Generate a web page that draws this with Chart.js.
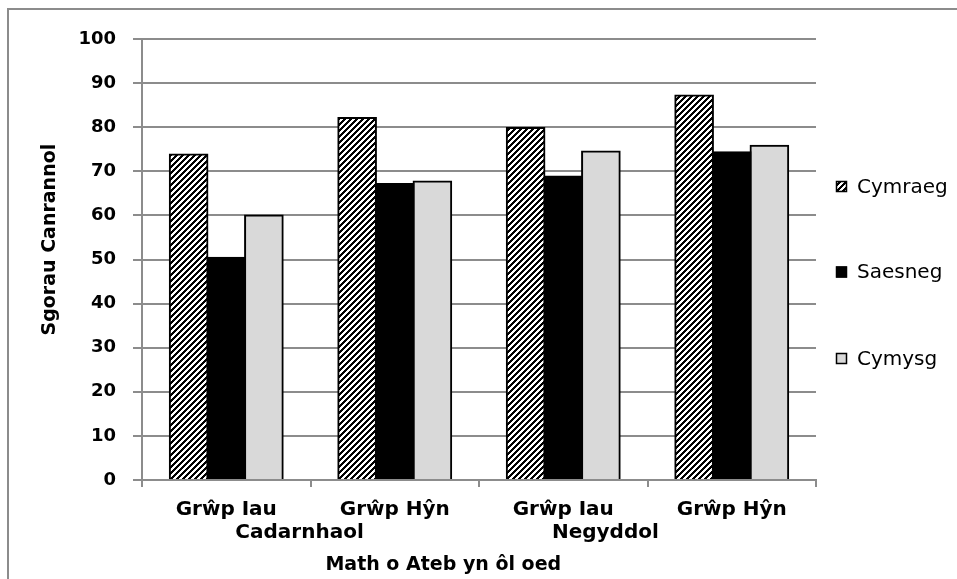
<!DOCTYPE html>
<html>
<head>
<meta charset="utf-8">
<script src="https://cdn.jsdelivr.net/npm/chart.js@4/dist/chart.umd.min.js"></script>
<style>
  html, body { margin: 0; padding: 0; background: #ffffff; }
  canvas { display: block; }
</style>
</head>
<body>
<canvas id="chart" width="957" height="579"></canvas>
<script>
// Category labels along the x axis, with the answer type shown on a second line
const categories = ['Grŵp Iau', 'Grŵp Hŷn', 'Grŵp Iau', 'Grŵp Hŷn'];
const groupLabels = ['Cadarnhaol', 'Negyddol'];

// Series (percentage scores)
const seriesNames = ['Cymraeg', 'Saesneg', 'Cymysg'];
const cymraeg = [73.8, 82.1, 79.8, 87.2];
const saesneg = [50.4, 67.1, 68.8, 74.3];
const cymysg  = [60.0, 67.7, 74.5, 75.8];

// Value axis
const yMin = 0;
const yMax = 100;
const yStep = 10;

const xTitle = 'Math o Ateb yn ôl oed';
const yTitle = 'Sgorau Canrannol';

// ---- styling ----
const FONT = "'DejaVu Sans', sans-serif";
const GRID = '#8c8c8c';

// Black/white diagonal stripes for the first series
function stripePattern() {
  const size = 6;
  const c = document.createElement('canvas');
  c.width = size; c.height = size;
  const g = c.getContext('2d');
  g.fillStyle = '#ffffff';
  g.fillRect(0, 0, size, size);
  g.fillStyle = '#000000';
  for (let y = 0; y < size; y++) {
    for (let x = 0; x < size; x++) {
      if ((x + y) % size < 3) g.fillRect(x, y, 1, 1);
    }
  }
  return g.createPattern(c, 'repeat');
}
const stripes = stripePattern();

const fills = [stripes, '#000000', '#d9d9d9'];
const seriesData = [cymraeg, saesneg, cymysg];

// Where the second-line group labels sit, in category units
const groupLabelAt = [0.435, 2.25];

// Frame, titles, group labels and legend drawn around the plot
const decor = {
  id: 'decor',
  beforeDraw(chart) {
    const ctx = chart.ctx;
    ctx.save();
    ctx.strokeStyle = GRID;
    ctx.lineWidth = 2;
    ctx.beginPath();
    ctx.moveTo(8, chart.height);
    ctx.lineTo(8, 9);
    ctx.lineTo(chart.width, 9);
    ctx.stroke();
    ctx.restore();
  },
  afterDraw(chart) {
    const ctx = chart.ctx;
    const area = chart.chartArea;
    const xs = chart.scales.x;
    ctx.save();
    ctx.fillStyle = '#000000';
    ctx.textBaseline = 'middle';
    ctx.textAlign = 'center';

    // second line of the category labels
    ctx.font = 'bold 20px ' + FONT;
    groupLabels.forEach((t, i) => {
      ctx.fillText(t, xs.getPixelForValue(groupLabelAt[i]), area.bottom + 53);
    });

    // axis titles
    ctx.font = 'bold 19px ' + FONT;
    ctx.fillText(xTitle, area.left + (area.right - area.left) * 0.447, area.bottom + 85);
    ctx.save();
    ctx.translate(50.5, area.top + (area.bottom - area.top) * 0.455);
    ctx.rotate(-Math.PI / 2);
    ctx.fillText(yTitle, 0, 0);
    ctx.restore();

    // legend
    ctx.font = '20px ' + FONT;
    ctx.textAlign = 'left';
    const lx = area.right + 20;
    const rows = [186.5, 272, 358.5];
    seriesNames.forEach((name, i) => {
      const cy = rows[i];
      ctx.fillStyle = fills[i];
      ctx.fillRect(lx, cy - 5.5, 11, 11);
      ctx.strokeStyle = '#000000';
      ctx.lineWidth = 1.5;
      ctx.strokeRect(lx + 0.5, cy - 5, 10, 10);
      ctx.fillStyle = '#000000';
      ctx.fillText(name, lx + 21, cy + 1);
    });
    ctx.restore();
  }
};

new Chart(document.getElementById('chart'), {
  type: 'bar',
  data: {
    labels: categories,
    datasets: seriesNames.map((name, i) => ({
      label: name,
      data: seriesData[i],
      backgroundColor: fills[i],
      borderColor: '#000000',
      borderWidth: 2,
      borderSkipped: 'bottom',
      inflateAmount: 1,
      categoryPercentage: 0.67,
      barPercentage: 1.0
    }))
  },
  options: {
    responsive: false,
    animation: false,
    devicePixelRatio: 1,
    layout: { padding: { left: 0, top: 39, right: 141, bottom: 0 } },
    plugins: {
      legend: { display: false },
      tooltip: { enabled: false }
    },
    scales: {
      x: {
        grid: {
          offset: true,
          drawOnChartArea: false,
          drawTicks: true,
          tickLength: 7,
          color: GRID,
          lineWidth: 2
        },
        border: { color: GRID, width: 2, z: 1 },
        ticks: {
          color: '#000000',
          font: { family: FONT, size: 20, weight: 'bold' },
          padding: 11,
          maxRotation: 0,
          autoSkip: false
        },
        afterFit(scale) { scale.height = 99; }
      },
      y: {
        min: yMin,
        max: yMax,
        grid: {
          color: GRID,
          lineWidth: 2,
          tickLength: 9
        },
        border: { color: GRID, width: 2 },
        ticks: {
          stepSize: yStep,
          color: '#000000',
          font: { family: FONT, size: 18, weight: 'bold' },
          padding: 17
        },
        afterFit(scale) { scale.width = 142; }
      }
    }
  },
  plugins: [decor]
});
</script>
</body>
</html>
